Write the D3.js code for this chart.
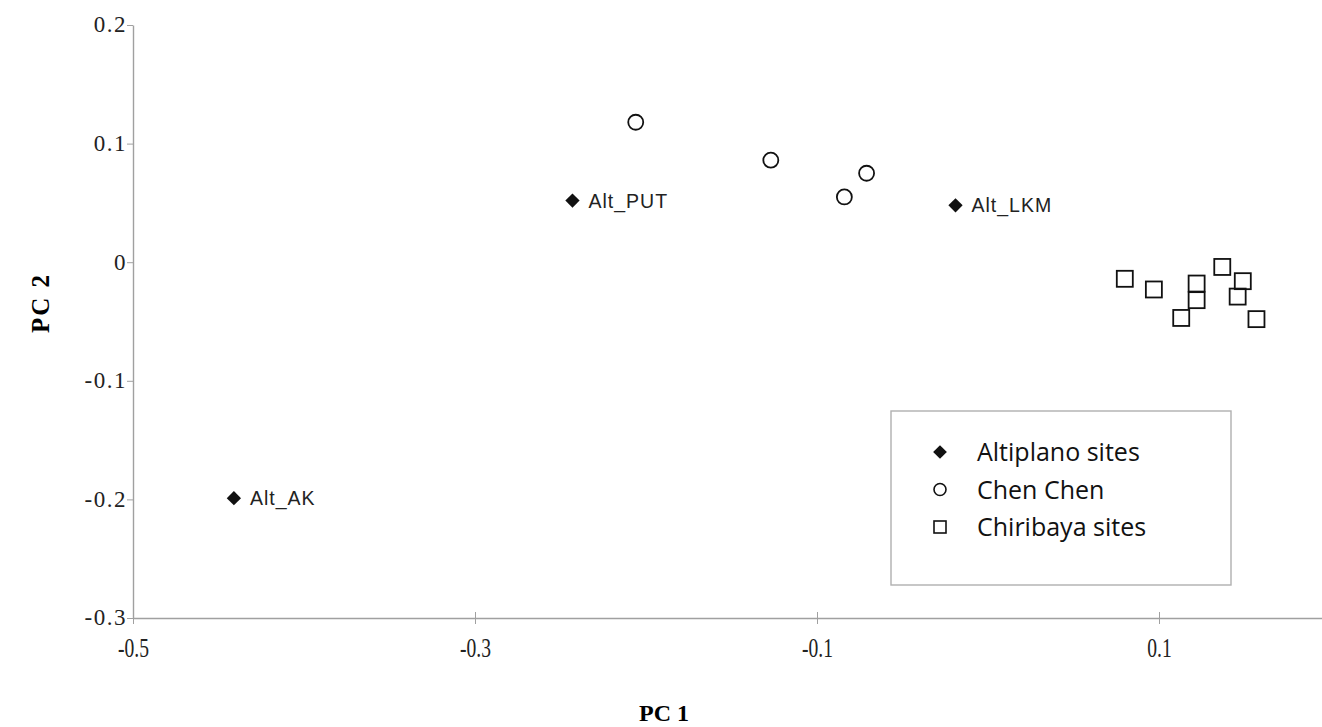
<!DOCTYPE html>
<html>
<head>
<meta charset="utf-8">
<script src="https://d3js.org/d3.v7.min.js"></script>
<style>
  body { margin: 0; background: #fff; }
</style>
</head>
<body>
<svg class="chart" width="1322" height="727"></svg>
<script>
    // data
    var altiplano = [
        {name: "Alt_AK", pc1: -0.441, pc2: -0.199},
        {name: "Alt_PUT", pc1: -0.243, pc2: 0.052},
        {name: "Alt_LKM", pc1: -0.019, pc2: 0.048}
    ]
    var chenChen = [
        {pc1: -0.206, pc2: 0.118},
        {pc1: -0.127, pc2: 0.086},
        {pc1: -0.071, pc2: 0.075},
        {pc1: -0.084, pc2: 0.055}
    ]
    var chiribaya = [
        {pc1: 0.080, pc2: -0.014},
        {pc1: 0.097, pc2: -0.023},
        {pc1: 0.122, pc2: -0.018},
        {pc1: 0.122, pc2: -0.032},
        {pc1: 0.113, pc2: -0.047},
        {pc1: 0.137, pc2: -0.004},
        {pc1: 0.149, pc2: -0.016},
        {pc1: 0.146, pc2: -0.029},
        {pc1: 0.157, pc2: -0.048}
    ]
    var xTicks = [-0.5, -0.3, -0.1, 0.1]
    var yTicks = [0.2, 0.1, 0, -0.1, -0.2, -0.3]
    var legendNames = ["Altiplano sites", "Chen Chen", "Chiribaya sites"]

    var svg = d3.select("svg")

    var xScale = d3.scaleLinear().domain([-0.5, 0.2]).range([133, 1330])
    var yScale = d3.scaleLinear().domain([-0.3, 0.2]).range([618, 25])

    var fmt = d => d === 0 ? "0" : d3.format(".1f")(d).replace("−", "-")

    // axes
    var xAxis = d3.axisBottom(xScale).tickValues(xTicks).tickSize(6).tickSizeOuter(0).tickFormat(fmt)
    var yAxis = d3.axisLeft(yScale).tickValues(yTicks).tickSize(6).tickSizeOuter(0).tickFormat(fmt)

    var gx = svg.append("g").attr("transform", "translate(0,618)").call(xAxis)
    var gy = svg.append("g").attr("transform", "translate(133,0)").call(yAxis)

    ;[gx, gy].forEach(g => {
        g.attr("font-size", null)
        g.select(".domain").attr("stroke", "#a0a0a0").attr("stroke-width", 1.4)
        g.selectAll(".tick line").attr("stroke", "#a0a0a0")
        g.selectAll(".tick text")
            .attr("fill", "#222")
            .attr("font-family", "'Liberation Serif', 'Times New Roman', serif")
            .attr("font-size", 23)
    })
    gx.selectAll(".tick line").attr("y1", -6)
    // x labels in the picture are tall and narrow
    gx.selectAll(".tick text").attr("dy", "0").attr("y", 39)
        .attr("font-size", 28)
        .attr("transform", "scale(0.7,1)")
    gy.selectAll(".tick text").attr("x", -6).attr("dy", "0.3em")
        .attr("letter-spacing", "1.5px")

    // axis titles
    svg.append("text")
        .attr("x", 664).attr("y", 721)
        .attr("text-anchor", "middle")
        .style("font-family", "'Liberation Serif', serif")
        .style("font-weight", "bold").style("font-size", "24px")
        .text("PC 1")
    svg.append("text")
        .attr("transform", "translate(49,303) rotate(-90)")
        .attr("text-anchor", "middle")
        .style("font-family", "'Liberation Serif', serif")
        .style("font-weight", "bold").style("font-size", "25px")
        .style("letter-spacing", "2px")
        .text("PC 2")

    var diamond = d3.symbol().type(d3.symbolDiamond2).size(130)

    // Chiribaya squares
    svg.append("g").selectAll("rect")
        .data(chiribaya)
        .enter()
        .append("rect")
        .attr("x", d => xScale(d.pc1) - 8)
        .attr("y", d => yScale(d.pc2) - 8)
        .attr("width", 16).attr("height", 16)
        .attr("fill", "none").attr("stroke", "#111").attr("stroke-width", 1.8)

    // Chen Chen circles
    svg.append("g").selectAll("circle")
        .data(chenChen)
        .enter()
        .append("circle")
        .attr("cx", d => xScale(d.pc1))
        .attr("cy", d => yScale(d.pc2))
        .attr("r", 7.5)
        .attr("fill", "#fff").attr("stroke", "#111").attr("stroke-width", 1.8)

    // Altiplano diamonds with labels
    var alt = svg.append("g").selectAll("g")
        .data(altiplano)
        .enter()
        .append("g")
        .attr("transform", d => `translate(${xScale(d.pc1)},${yScale(d.pc2)})`)
    alt.append("path").attr("d", diamond).attr("fill", "#111")
    alt.append("text")
        .attr("x", 16).attr("y", 7)
        .attr("fill", "#222")
        .style("font-family", "'Liberation Sans', Arial, sans-serif")
        .style("font-size", "19.5px")
        .style("letter-spacing", "1px")
        .text(d => d.name)

    // legend
    var legend = svg.append("g").attr("transform", "translate(891,411)")
    legend.append("rect")
        .attr("width", 340).attr("height", 174)
        .attr("fill", "#fff").attr("stroke", "#b0b0b0").attr("stroke-width", 1.4)
    var rows = legend.selectAll("g.row")
        .data(legendNames)
        .enter()
        .append("g")
        .attr("class", "row")
        .attr("transform", (d, i) => `translate(49,${41 + i * 37.5})`)
    rows.each(function (d, i) {
        var r = d3.select(this)
        if (i === 0) r.append("path").attr("d", d3.symbol().type(d3.symbolDiamond2).size(120)).attr("fill", "#111")
        else if (i === 1) r.append("circle").attr("r", 6).attr("fill", "none").attr("stroke", "#111").attr("stroke-width", 1.6)
        else r.append("rect").attr("x", -6).attr("y", -6).attr("width", 12).attr("height", 12)
            .attr("fill", "none").attr("stroke", "#111").attr("stroke-width", 1.6)
    })
    rows.append("text")
        .attr("x", 37).attr("y", 9)
        .attr("fill", "#111")
        .style("font-family", "'Open Sans', 'Noto Sans', sans-serif")
        .style("font-size", "25px")
        .text(d => d)
</script>
</body>
</html>
